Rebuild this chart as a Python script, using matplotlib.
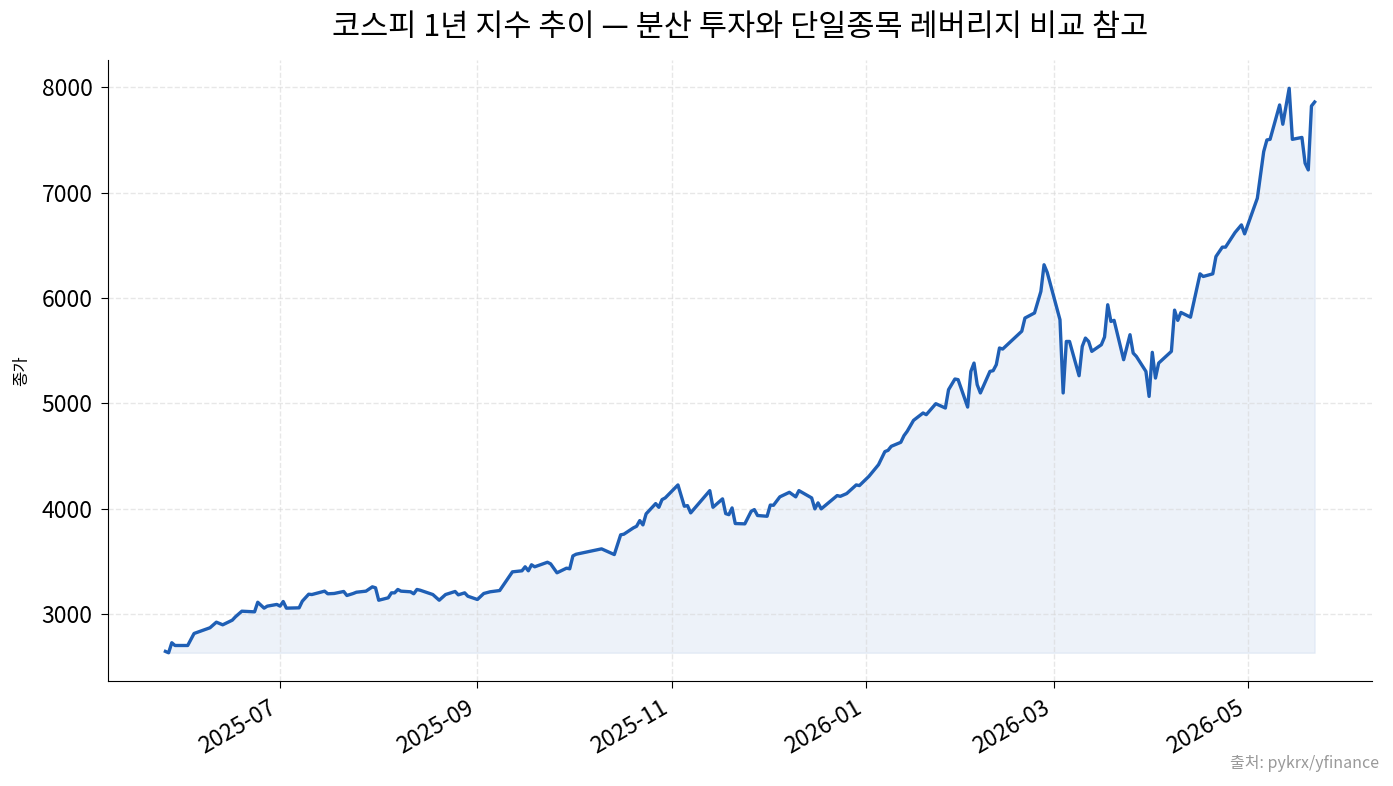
import pandas as pd
import matplotlib.pyplot as plt
import matplotlib.dates as mdates

plt.rcParams['font.family'] = ['Noto Sans CJK KR', 'DejaVu Sans']
plt.rcParams['axes.unicode_minus'] = False

# 코스피 종가
dates = [
    '2025-05-26', '2025-05-27', '2025-05-28', '2025-05-29', '2025-06-02', '2025-06-04',
    '2025-06-09', '2025-06-11', '2025-06-13', '2025-06-16', '2025-06-17', '2025-06-19',
    '2025-06-23', '2025-06-24', '2025-06-26', '2025-06-27', '2025-06-30', '2025-07-01',
    '2025-07-02', '2025-07-03', '2025-07-07', '2025-07-08', '2025-07-10', '2025-07-11',
    '2025-07-15', '2025-07-16', '2025-07-18', '2025-07-21', '2025-07-22', '2025-07-24',
    '2025-07-25', '2025-07-28', '2025-07-30', '2025-07-31', '2025-08-01', '2025-08-04',
    '2025-08-05', '2025-08-06', '2025-08-07', '2025-08-08', '2025-08-11', '2025-08-12',
    '2025-08-13', '2025-08-14', '2025-08-18', '2025-08-20', '2025-08-22', '2025-08-25',
    '2025-08-26', '2025-08-28', '2025-08-29', '2025-09-01', '2025-09-03', '2025-09-05',
    '2025-09-08', '2025-09-10', '2025-09-12', '2025-09-15', '2025-09-16', '2025-09-17',
    '2025-09-18', '2025-09-19', '2025-09-23', '2025-09-24', '2025-09-26', '2025-09-29',
    '2025-09-30', '2025-10-01', '2025-10-02', '2025-10-10', '2025-10-14', '2025-10-16',
    '2025-10-17', '2025-10-20', '2025-10-21', '2025-10-22', '2025-10-23', '2025-10-24',
    '2025-10-27', '2025-10-28', '2025-10-29', '2025-10-30', '2025-11-03', '2025-11-05',
    '2025-11-06', '2025-11-07', '2025-11-13', '2025-11-14', '2025-11-17', '2025-11-18',
    '2025-11-19', '2025-11-20', '2025-11-21', '2025-11-24', '2025-11-26', '2025-11-27',
    '2025-11-28', '2025-12-01', '2025-12-02', '2025-12-03', '2025-12-05', '2025-12-08',
    '2025-12-10', '2025-12-11', '2025-12-15', '2025-12-16', '2025-12-17', '2025-12-18',
    '2025-12-23', '2025-12-24', '2025-12-26', '2025-12-29', '2025-12-30', '2026-01-02',
    '2026-01-05', '2026-01-07', '2026-01-08', '2026-01-09', '2026-01-12', '2026-01-13',
    '2026-01-14', '2026-01-16', '2026-01-19', '2026-01-20', '2026-01-23', '2026-01-26',
    '2026-01-27', '2026-01-29', '2026-01-30', '2026-02-02', '2026-02-03', '2026-02-04',
    '2026-02-05', '2026-02-06', '2026-02-09', '2026-02-10', '2026-02-11', '2026-02-12',
    '2026-02-13', '2026-02-19', '2026-02-20', '2026-02-23', '2026-02-25', '2026-02-26',
    '2026-02-27', '2026-03-03', '2026-03-04', '2026-03-05', '2026-03-06', '2026-03-09',
    '2026-03-10', '2026-03-11', '2026-03-12', '2026-03-13', '2026-03-16', '2026-03-17',
    '2026-03-18', '2026-03-19', '2026-03-20', '2026-03-23', '2026-03-25', '2026-03-26',
    '2026-03-27', '2026-03-30', '2026-03-31', '2026-04-01', '2026-04-02', '2026-04-03',
    '2026-04-07', '2026-04-08', '2026-04-09', '2026-04-10', '2026-04-13', '2026-04-16',
    '2026-04-17', '2026-04-20', '2026-04-21', '2026-04-23', '2026-04-24', '2026-04-27',
    '2026-04-29', '2026-04-30', '2026-05-04', '2026-05-06', '2026-05-07', '2026-05-08',
    '2026-05-11', '2026-05-12', '2026-05-14', '2026-05-15', '2026-05-18', '2026-05-19',
    '2026-05-20', '2026-05-21', '2026-05-22',
]
close = [
    2650, 2637, 2732, 2706, 2706, 2820,
    2874, 2927, 2902, 2946, 2978, 3031,
    3025, 3116, 3060, 3079, 3095, 3079,
    3123, 3060, 3063, 3126, 3192, 3189,
    3221, 3196, 3199, 3218, 3180, 3199,
    3211, 3221, 3262, 3253, 3135, 3158,
    3205, 3205, 3237, 3221, 3215, 3196,
    3237, 3230, 3189, 3135, 3189, 3218,
    3186, 3205, 3173, 3142, 3199, 3215,
    3227, 3315, 3404, 3414, 3452, 3414,
    3471, 3452, 3495, 3480, 3395, 3439,
    3433, 3555, 3571, 3622, 3568, 3755,
    3761, 3821, 3836, 3890, 3849, 3954,
    4051, 4016, 4089, 4105, 4228, 4026,
    4032, 3963, 4174, 4016, 4096, 3956,
    3946, 4010, 3862, 3859, 3978, 3994,
    3938, 3931, 4037, 4035, 4115, 4158,
    4115, 4174, 4105, 4001, 4058, 4001,
    4127, 4120, 4146, 4228, 4222, 4310,
    4420, 4544, 4556, 4594, 4632, 4695,
    4736, 4840, 4910, 4894, 4998, 4957,
    5131, 5232, 5226, 4966, 5304, 5383,
    5178, 5100, 5304, 5311, 5368, 5526,
    5516, 5685, 5810, 5858, 6062, 6315,
    6242, 5794, 5100, 5588, 5588, 5263,
    5541, 5620, 5588, 5494, 5557, 5630,
    5936, 5778, 5788, 5415, 5652, 5478,
    5446, 5304, 5067, 5485, 5241, 5383,
    5494, 5885, 5788, 5863, 5818, 6229,
    6204, 6229, 6393, 6482, 6482, 6621,
    6693, 6608, 6946, 7388, 7498, 7504,
    7830, 7647, 7988, 7504, 7522, 7278,
    7214, 7820, 7858,
]

df = pd.DataFrame({'date': pd.to_datetime(dates), 'close': close})

line_color = '#1f5fb5'

fig = plt.figure(figsize=(13.93, 7.86), dpi=100)
ax = fig.add_axes([0.0775, 0.1336, 0.9075, 0.79])

ax.plot(df['date'], df['close'], color=line_color, linewidth=2.4)
ax.fill_between(df['date'], df['close'], df['close'].min(), color=line_color, alpha=0.08)

ax.set_title('코스피 1년 지수 추이 — 분산 투자와 단일종목 레버리지 비교 참고',
             fontsize=22, pad=17)
ax.set_ylabel('종가', fontsize=12, labelpad=8)

ax.xaxis.set_major_locator(mdates.MonthLocator(bymonth=[1, 3, 5, 7, 9, 11]))
ax.xaxis.set_major_formatter(mdates.DateFormatter('%Y-%m'))
ax.tick_params(labelsize=16.5, length=5, pad=6)
for lbl in ax.get_xticklabels():
    lbl.set_rotation(30)
    lbl.set_ha('right')

ax.grid(True, linestyle='--', color='#d8d8d8', alpha=0.6, linewidth=1)
ax.spines['top'].set_visible(False)
ax.spines['right'].set_visible(False)

fig.text(0.99, 0.018, '출처: pykrx/yfinance', ha='right', va='bottom',
         fontsize=11.5, color='#999999')

fig.savefig('out.png', dpi=100)
